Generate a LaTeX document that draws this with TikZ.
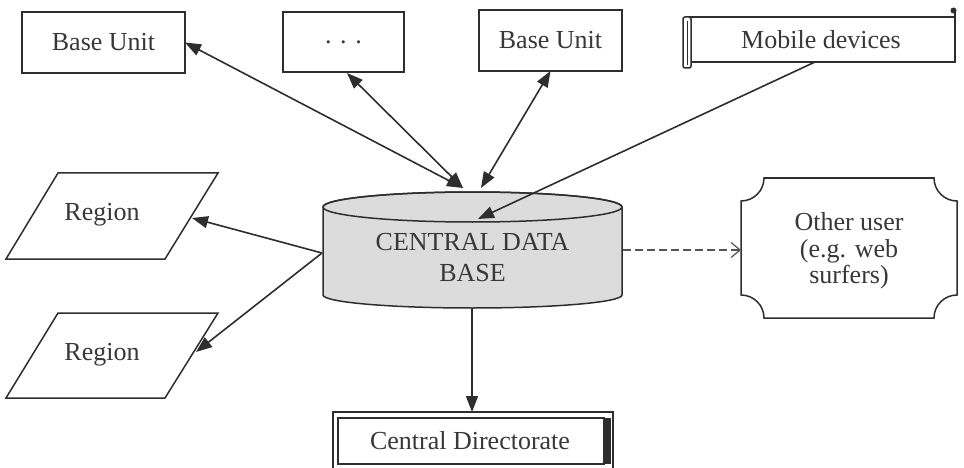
\documentclass[tikz,border=0pt]{standalone}
\usepackage{fontspec}
\setmainfont{Liberation Serif}
\usetikzlibrary{arrows.meta}
\definecolor{ink}{HTML}{2E2E2E}
\definecolor{txt}{HTML}{383838}
\definecolor{dbgray}{HTML}{DCDCDC}
\definecolor{dashink}{HTML}{555555}
\begin{document}
\begin{tikzpicture}[x=1pt,y=-1pt,
  every node/.style={font=\fontsize{26}{31}\selectfont, text=txt, inner sep=0pt, outer sep=0pt},
  boxnode/.style={draw=ink, line width=1.5pt, fill=white},
  shapeline/.style={draw=ink, line width=1.5pt},
  tip/.style={Triangle[length=16pt,width=12pt]},
  conn/.style={draw=ink, line width=1.6pt, -{Triangle[length=16pt,width=12pt]}},
  bothconn/.style={draw=ink, line width=1.6pt, {Triangle[length=16pt,width=12pt]}-{Triangle[length=16pt,width=12pt]}},
  dashconn/.style={draw=dashink, line width=1.2pt, dash pattern=on 8pt off 4pt, -{Straight Barb[length=9pt,width=15pt]}},
]
\useasboundingbox (0,0) rectangle (964,468);
\fill[white] (0,0) rectangle (964,468);

% top boxes
\node[boxnode, minimum width=163pt, minimum height=61pt] (bu1) at (103.5,42.5) {Base Unit};
\node[boxnode, minimum width=121pt, minimum height=60pt] (dots) at (343.5,42) {.\,\,.\,\,.};
\node[boxnode, minimum width=143pt, minimum height=61pt] (bu2) at (550.5,40.5) {Base Unit};

% mobile devices (scroll)
\node[boxnode, minimum width=267pt, minimum height=45pt] (mob) at (821.5,39.5) {};
\node (mobtxt) at (821,40) {Mobile devices};
\draw[shapeline, fill=white, rounded corners=2pt] (683,17) rectangle (691,68);
\draw[draw=ink, line width=0.8pt] (687,21) -- (687,65);
\draw[shapeline] (955,17) -- (955,12);
\fill[ink] (953.5,10.5) circle (3);

% central data base (cylinder)
\path[fill=dbgray, shapeline] (323,207) -- (323,295)
  arc[start angle=180, end angle=0, x radius=149.5, y radius=13]
  -- (622,207)
  arc[start angle=0, end angle=-180, x radius=149.5, y radius=15] -- cycle;
\draw[shapeline] (472.5,207) ellipse [x radius=149.5, y radius=15];
\node[align=center] (db) at (472.5,257.5) {CENTRAL DATA\\BASE};

% regions
\draw[shapeline, fill=white] (58,173) -- (218,173) -- (165,259) -- (6,259) -- cycle;
\node (reg1) at (102,215) {Region};
\draw[shapeline, fill=white] (58,313) -- (218,313) -- (165,398) -- (6,398) -- cycle;
\node (reg2) at (102,355) {Region};

% other user (concave corners)
\draw[shapeline, fill=white] (764,178) -- (934,178)
  arc[start angle=180, end angle=90, radius=23] -- (957,295)
  arc[start angle=270, end angle=180, radius=23] -- (764,318)
  arc[start angle=0, end angle=-90, radius=23] -- (741,201)
  arc[start angle=90, end angle=0, radius=23] -- cycle;
\node[align=center, font=\fontsize{26}{26.5}\selectfont] (other) at (849,251) {Other user\\(e.g. web\\surfers)};

% central directorate
\draw[shapeline] (333,472) -- (333,412) -- (613,412) -- (613,472);
\draw[shapeline] (338,418) rectangle (604,464);
\fill[ink] (604,418) rectangle (611,464);
\node (cd) at (470,441) {Central Directorate};

% connector endpoints
\coordinate (dbTopA) at (463,188);
\coordinate (dbTopB) at (481,188);
\coordinate (dbMob) at (478,219);
\coordinate (dbLeft) at (322,253);
\coordinate (dbRight) at (623,250);
\coordinate (dbBot) at (472,309);
\coordinate (reg1R) at (192,218);
\coordinate (reg2R) at (196,352);
\coordinate (otherL) at (741,250);
\coordinate (cdTop) at (472,412);
\coordinate (dotsB) at (347,73);
\coordinate (mobB) at (815,62);

% connectors
\draw[bothconn] (dbTopA) -- (bu1.east);
\draw[bothconn] (dbTopA) -- (dotsB);
\draw[bothconn] (dbTopB) -- (bu2.south);
\draw[conn] (mobB) -- (dbMob);
\draw[conn] (dbLeft) -- (reg1R);
\draw[conn] (dbLeft) -- (reg2R);
\draw[dashconn] (dbRight) -- (otherL);
\draw[conn] (dbBot) -- (cdTop);
\end{tikzpicture}
\end{document}
